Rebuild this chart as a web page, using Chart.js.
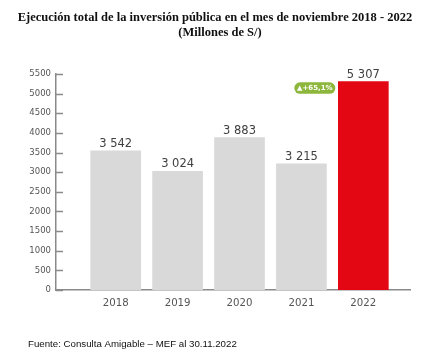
<!DOCTYPE html>
<html><head><meta charset="utf-8">
<script src="https://cdn.jsdelivr.net/npm/chart.js@4.4.0/dist/chart.umd.min.js"></script>
<style>html,body{margin:0;padding:0;background:#fff;}#wrap{width:435px;height:357px;position:relative;}</style>
</head><body><div id="wrap"><canvas id="c" width="435" height="357"></canvas></div>
<script>
const categories = ['2018','2019','2020','2021','2022'];
const values = [3542, 3024, 3883, 3215, 5307];
const valueLabels = ['3 542','3 024','3 883','3 215','5 307'];
const barColors = ['#d9d9d9','#d9d9d9','#d9d9d9','#d9d9d9','#e30613'];
const yTicks = [0,500,1000,1500,2000,2500,3000,3500,4000,4500,5000,5500];
const titleLines = ['Ejecución total de la inversión pública en el mes de noviembre 2018 - 2022','(Millones de S/)'];
const sourceText = 'Fuente: Consulta Amigable – MEF al 30.11.2022';
const badgeText = '▲+65,1%';
const badgeIndex = 4;

const textPlugin = {
  id:'texts',
  afterDraw(chart){
    const ctx = chart.ctx;
    ctx.save();
    ctx.fillStyle = '#111';
    ctx.font = 'bold 12.5px "Liberation Serif"';
    ctx.textAlign = 'center';
    ctx.textBaseline = 'alphabetic';
    ctx.fillText(titleLines[0], 215, 21);
    ctx.fillText(titleLines[1], 220, 36);
    ctx.font = '9.7px "Liberation Sans"';
    ctx.textAlign = 'left';
    ctx.fillStyle = '#111';
    ctx.fillText(sourceText, 28, 347);
    ctx.restore();
  }
};
const tickPlugin = {
  id:'innerTicks',
  afterDraw(chart){
    const y = chart.scales.y, ctx = chart.ctx, left = chart.chartArea.left;
    ctx.save();
    ctx.strokeStyle = '#8a8a8a'; ctx.lineWidth = 1.5;
    yTicks.forEach(v=>{
      const p = Math.round(y.getPixelForValue(v))+0.5;
      ctx.beginPath(); ctx.moveTo(left, p); ctx.lineTo(left+7, p); ctx.stroke();
    });
    ctx.restore();
  }
};
const labelPlugin = {
  id:'valueLabels',
  afterDatasetsDraw(chart){
    const ctx = chart.ctx, meta = chart.getDatasetMeta(0);
    ctx.save();
    ctx.font = '11.5px "DejaVu Sans"';
    ctx.fillStyle = '#404040';
    ctx.textAlign = 'center'; ctx.textBaseline = 'alphabetic';
    meta.data.forEach((b,i)=>{ ctx.fillText(valueLabels[i], b.x, b.y - 4); });
    const b = meta.data[badgeIndex];
    const w = 41, h = 11.5;
    const right = b.x - 28, cy = b.y + 6.5;
    const x0 = right - w, y0 = cy - h/2;
    ctx.fillStyle = '#8cb63c';
    ctx.beginPath();
    ctx.roundRect(x0, y0, w, h, h/2);
    ctx.fill();
    ctx.fillStyle = '#fff';
    ctx.font = 'bold 7px "DejaVu Sans"';
    ctx.textBaseline = 'middle';
    ctx.fillText(badgeText, x0 + w/2, cy + 0.5);
    ctx.restore();
  }
};

new Chart(document.getElementById('c'), {
  type:'bar',
  data:{
    datasets:[{
      data: categories.map((c,i)=>({x:i, y:values[i]})),
      backgroundColor: barColors,
      borderWidth:0,
      barThickness:50
    }]
  },
  options:{
    responsive:false, animation:false,
    layout:{padding:{left:0,right:25,top:74,bottom:41}},
    plugins:{legend:{display:false},tooltip:{enabled:false}},
    scales:{
      x:{
        type:'linear', min:-0.9645, max:4.754, offset:false,
        grid:{display:false, tickLength:0},
        border:{display:true,color:'#8a8a8a',width:1.5},
        afterBuildTicks(s){ s.ticks = categories.map((c,i)=>({value:i})); },
        afterFit(s){ s.height = 26; },
        ticks:{ callback:(v)=>categories[v], color:'#555', font:{family:'DejaVu Sans',size:10.2}, padding:7, maxRotation:0, autoSkip:false }
      },
      y:{
        min:0, max:5500,
        grid:{display:false, tickLength:0},
        border:{display:true,color:'#8a8a8a',width:1.5},
        afterBuildTicks(s){ s.ticks = yTicks.map(v=>({value:v})); },
        afterFit(s){ s.width = 56; },
        ticks:{ callback:(v)=>String(v), color:'#555', font:{family:'DejaVu Sans',size:8.5}, padding:5 }
      }
    }
  },
  plugins:[textPlugin, tickPlugin, labelPlugin]
});
</script></body></html>
